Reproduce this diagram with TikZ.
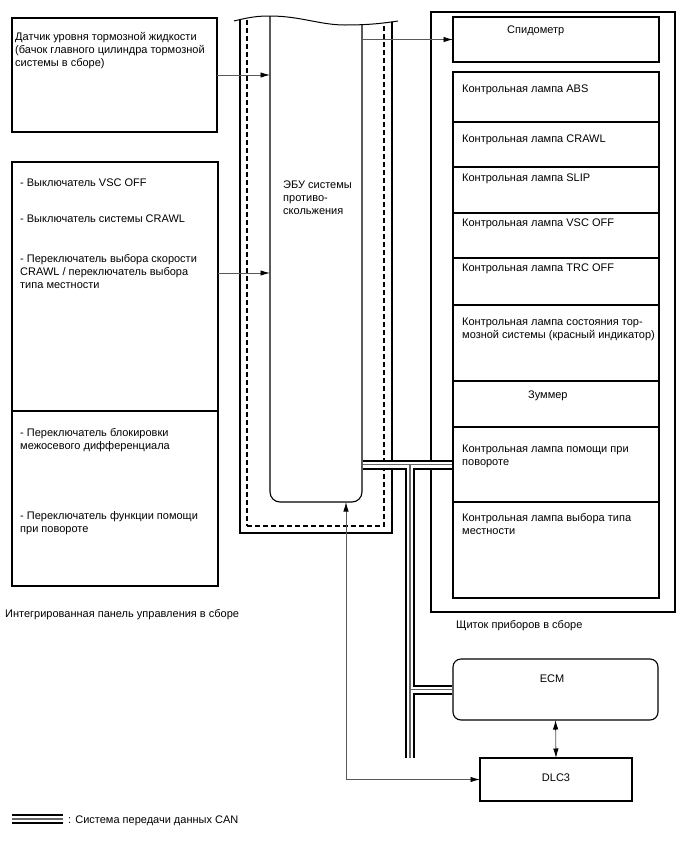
\documentclass[tikz,border=0pt]{standalone}
\usepackage{fontspec}
\setmainfont{Liberation Sans}
\usetikzlibrary{arrows.meta,calc}
\begin{document}
\begin{tikzpicture}[x=1pt,y=-1pt,
  box/.style={draw=black, line width=1.1pt, rectangle, anchor=north west, inner sep=0pt, outer sep=0pt},
  txt/.style={anchor=base west, inner sep=0pt, align=left, font=\fontsize{11}{13.3}\selectfont},
  ctxt/.style={inner sep=0pt, font=\fontsize{11}{13.3}\selectfont},
  conn/.style={draw=black!65, line width=0.8pt},
  arr/.style={-{Latex[length=9.5pt,width=5.4pt,color=black]}},
  arrtwo/.style={{Latex[length=9.5pt,width=5.4pt,color=black]}-{Latex[length=9.5pt,width=5.4pt,color=black]}},
]
\path[fill=white, use as bounding box] (0,0) rectangle (688,852);

% brake fluid level sensor
\node[box, minimum width=205pt, minimum height=114pt] (sensor) at (12,18) {};
\node[txt] (sensorT) at (15,66.6) {Датчик уровня тормозной жидкости\\(бачок главного цилиндра тормозной\\системы в сборе)};

% integrated control panel
\node[box, minimum width=206pt, minimum height=249pt] (sw) at (12,162) {};
\node[box, minimum width=206pt, minimum height=175pt] (swb) at (12,411) {};
\node[txt] (s1) at (20,186) {- Выключатель VSC OFF};
\node[txt] (s2) at (20,222) {- Выключатель системы CRAWL};
\node[txt] (s3) at (20,288.6) {- Переключатель выбора скорости\\CRAWL / переключатель выбора\\типа местности};
\node[txt] (s4) at (20,449.3) {- Переключатель блокировки\\межосевого дифференциала};
\node[txt] (s5) at (20,532.3) {- Переключатель функции помощи\\при повороте};
\node[txt] (lblpanel) at (5,617) {Интегрированная панель управления в сборе};

% skid control ECU
\begin{scope}
  \clip (234,21) .. controls (250,17) and (258,16) .. (270,16) .. controls (300,16) and (320,25) .. (345,25) .. controls (370,25) and (385,23) .. (398,21) -- (398,560) -- (234,560) -- cycle;
  \node[box, minimum width=152pt, minimum height=543pt] (ecuouter) at (240,-10) {};
  \node[box, dash pattern=on 5pt off 3pt, minimum width=137pt, minimum height=536pt] (ecudash) at (247,-10) {};
  \node[box, rounded corners=10pt, minimum width=92pt, minimum height=512pt] (ecu) at (270,-10) {};
\end{scope}
\draw[line width=1pt] (234,21) .. controls (250,17) and (258,16) .. (270,16) .. controls (300,16) and (320,25) .. (345,25) .. controls (370,25) and (385,23) .. (398,21);
\node[txt] (ecuT) at (283,214.6) {ЭБУ системы\\противо-\\скольжения};

% combination meter
\node[box, minimum width=244pt, minimum height=600pt] (cluster) at (431,12) {};
\node[box, minimum width=206pt, minimum height=45pt] (speedo) at (453,17) {};
\node[txt] (speedoT) at (507,33) {Спидометр};
\node[box, minimum width=206pt, minimum height=50pt] (abs) at (453,72) {};
\node[box, minimum width=206pt, minimum height=45pt] (crawl) at (453,122) {};
\node[box, minimum width=206pt, minimum height=46pt] (slip) at (453,167) {};
\node[box, minimum width=206pt, minimum height=45pt] (vsc) at (453,213) {};
\node[box, minimum width=206pt, minimum height=47pt] (trc) at (453,258) {};
\node[box, minimum width=206pt, minimum height=76pt] (brake) at (453,305) {};
\node[box, minimum width=206pt, minimum height=46pt] (buzzer) at (453,381) {};
\node[box, minimum width=206pt, minimum height=75pt] (assist) at (453,427) {};
\node[box, minimum width=206pt, minimum height=96pt] (terrain) at (453,502) {};
\node[txt] (absT) at (462,92) {Контрольная лампа ABS};
\node[txt] (crawlT) at (462,142) {Контрольная лампа CRAWL};
\node[txt] (slipT) at (462,181) {Контрольная лампа SLIP};
\node[txt] (vscT) at (462,226) {Контрольная лампа VSC OFF};
\node[txt] (trcT) at (462,271) {Контрольная лампа TRC OFF};
\node[txt] (brakeT) at (462,338.3) {Контрольная лампа состояния тор-\\мозной системы (красный индикатор)};
\node[txt] (buzzerT) at (528,398) {Зуммер};
\node[txt] (assistT) at (462,465.3) {Контрольная лампа помощи при\\повороте};
\node[txt] (terrainT) at (462,534.3) {Контрольная лампа выбора типа\\местности};
\node[txt] (lblcluster) at (456,628) {Щиток приборов в сборе};

% ECM and DLC3
\node[box, rounded corners=8pt, minimum width=205pt, minimum height=61pt] (ecm) at (453,659) {};
\node[ctxt] (ecmT) at (552,679) {ECM};
\node[box, minimum width=152pt, minimum height=43pt] (dlc) at (480,758) {};
\node[ctxt] (dlcT) at (556,778) {DLC3};

% connectors
\draw[conn, arr] (sensor.east) -- (sensor.east -| ecu.west);
\coordinate (swout) at ($(sw.north east)+(0,111)$);
\draw[conn, arr] (swout) -- (swout -| ecu.west);
\draw[conn, arr] (speedo.west -| ecu.east) -- (speedo.west);
\coordinate (ecuin) at ($(ecu.south east)+(-16,0)$);
\draw[conn, arrtwo] (ecuin) |- (dlc.west);
\draw[conn, arrtwo] (ecm.south) -- (dlc.north);

% CAN bus
\coordinate (busX) at (410,0);
\coordinate (lgA) at (12,819);
\coordinate (lgB) at (63,819);
\foreach \w/\c in {10/black,6/white,1.1/black!60}{
  \draw[line width=\w pt, draw=\c]
    ($(assist.west -| ecu.east)+(0.6,0)$) -- ($(assist.west)+(-0.6,0)$)
    (assist.west -| busX) -- (busX |- dlc.north)
    (ecm.west -| busX) -- ($(ecm.west)+(-0.6,0)$)
    (lgA) -- (lgB);
}
\node[txt] (lgT) at (68,823) {: Система передачи данных CAN};
\end{tikzpicture}
\end{document}
